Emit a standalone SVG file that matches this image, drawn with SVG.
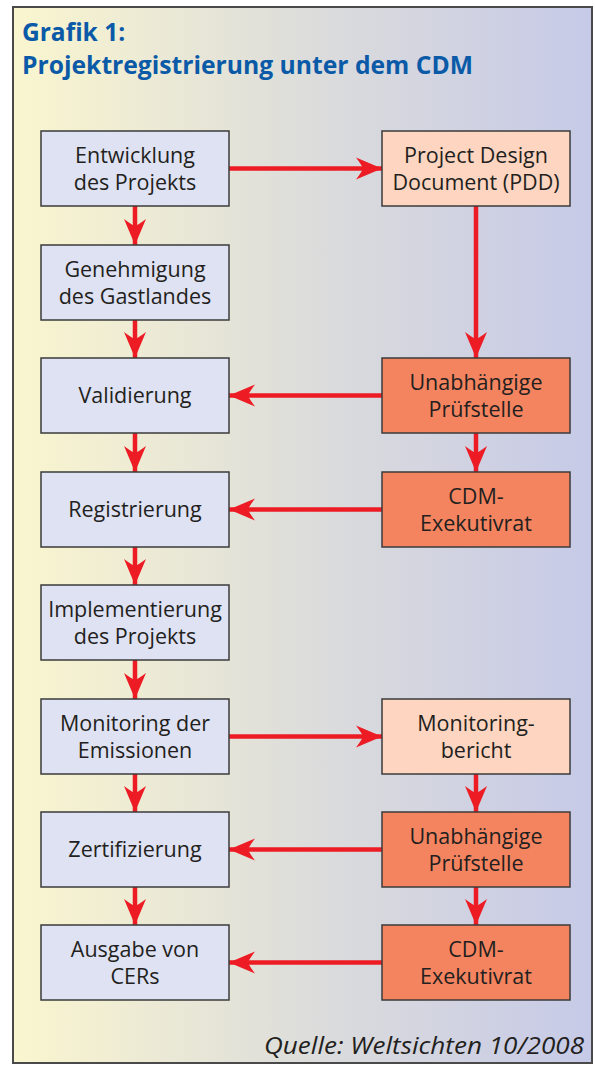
<svg xmlns="http://www.w3.org/2000/svg" width="595" height="1068" viewBox="0 0 595 1068">
<defs>
<linearGradient id="bg" x1="0" y1="0" x2="1" y2="0">
<stop offset="0" stop-color="#faf6cf"/>
<stop offset="0.5" stop-color="#dddddb"/>
<stop offset="1" stop-color="#c6cae7"/>
</linearGradient>
<marker id="ah" markerUnits="userSpaceOnUse" markerWidth="30" markerHeight="26" viewBox="-28 -13 30 26" refX="0" refY="0" orient="auto">
<path d="M0,0 L-26,-11 Q-20,-3 -19,0 Q-20,3 -26,11 Z" fill="#ed1c24"/>
</marker>
<style>
.box rect{stroke:#3b3b3b;stroke-width:1.5}
.b1 rect{fill:#dfe2f3}
.b2 rect{fill:#fdd5c0}
.b3 rect{fill:#f4845f}
.box text{font-family:"Open Sans","Liberation Sans",sans-serif;font-size:21.5px;font-weight:500;fill:#231f20;text-anchor:middle}
.con line{stroke:#ed1c24;stroke-width:4.5;marker-end:url(#ah)}
.title{font-family:"Open Sans","Liberation Sans",sans-serif;font-weight:700;font-size:24.5px;fill:#0a5aa8}
</style>
</defs>
<rect x="13" y="7" width="579" height="1056" fill="url(#bg)" stroke="#4a4a4a" stroke-width="2"/>
<text class="title" x="22" y="41">Grafik 1:</text>
<text class="title" x="22" y="73.5" textLength="451" lengthAdjust="spacingAndGlyphs">Projektregistrierung unter dem CDM</text>

<g class="con">
<line x1="229" y1="168.5" x2="382" y2="168.5"/>
<line x1="382" y1="395.5" x2="229" y2="395.5"/>
<line x1="382" y1="509.5" x2="229" y2="509.5"/>
<line x1="229" y1="736.5" x2="382" y2="736.5"/>
<line x1="382" y1="849.5" x2="229" y2="849.5"/>
<line x1="382" y1="962.5" x2="229" y2="962.5"/>
<line x1="135" y1="206" x2="135" y2="245"/>
<line x1="135" y1="320" x2="135" y2="358"/>
<line x1="135" y1="433" x2="135" y2="472"/>
<line x1="135" y1="547" x2="135" y2="585"/>
<line x1="135" y1="660" x2="135" y2="699"/>
<line x1="135" y1="774" x2="135" y2="812"/>
<line x1="135" y1="887" x2="135" y2="925"/>
<line x1="476" y1="206" x2="476" y2="358"/>
<line x1="476" y1="433" x2="476" y2="472"/>
<line x1="476" y1="774" x2="476" y2="812"/>
<line x1="476" y1="887" x2="476" y2="925"/>
</g>

<g id="n1" class="box b1"><rect x="41" y="131" width="188" height="75"/><text x="135" y="163">Entwicklung</text><text x="135" y="190">des Projekts</text></g>
<g id="n2" class="box b1"><rect x="41" y="245" width="188" height="75"/><text x="135" y="277">Genehmigung</text><text x="135" y="304">des Gastlandes</text></g>
<g id="n3" class="box b1"><rect x="41" y="358" width="188" height="75"/><text x="135" y="403">Validierung</text></g>
<g id="n4" class="box b1"><rect x="41" y="472" width="188" height="75"/><text x="135" y="517">Registrierung</text></g>
<g id="n5" class="box b1"><rect x="41" y="585" width="188" height="75"/><text x="135" y="617">Implementierung</text><text x="135" y="644">des Projekts</text></g>
<g id="n6" class="box b1"><rect x="41" y="699" width="188" height="75"/><text x="135" y="731">Monitoring der</text><text x="135" y="758">Emissionen</text></g>
<g id="n7" class="box b1"><rect x="41" y="812" width="188" height="75"/><text x="135" y="857">Zertifizierung</text></g>
<g id="n8" class="box b1"><rect x="41" y="925" width="188" height="75"/><text x="135" y="957">Ausgabe von</text><text x="135" y="984">CERs</text></g>

<g id="r1" class="box b2"><rect x="382" y="131" width="188" height="75"/><text x="476" y="163">Project Design</text><text x="476" y="190">Document (PDD)</text></g>
<g id="r3" class="box b3"><rect x="382" y="358" width="188" height="75"/><text x="476" y="390">Unabhängige</text><text x="476" y="417">Prüfstelle</text></g>
<g id="r4" class="box b3"><rect x="382" y="472" width="188" height="75"/><text x="476" y="504">CDM-</text><text x="476" y="531">Exekutivrat</text></g>
<g id="r6" class="box b2"><rect x="382" y="699" width="188" height="75"/><text x="476" y="731">Monitoring-</text><text x="476" y="758">bericht</text></g>
<g id="r7" class="box b3"><rect x="382" y="812" width="188" height="75"/><text x="476" y="844">Unabhängige</text><text x="476" y="871">Prüfstelle</text></g>
<g id="r8" class="box b3"><rect x="382" y="925" width="188" height="75"/><text x="476" y="957">CDM-</text><text x="476" y="984">Exekutivrat</text></g>

<text x="584" y="1054" text-anchor="end" font-family="Open Sans, Liberation Sans, sans-serif" font-style="italic" font-size="24" textLength="320" lengthAdjust="spacingAndGlyphs" fill="#231f20">Quelle: Weltsichten 10/2008</text>
</svg>
